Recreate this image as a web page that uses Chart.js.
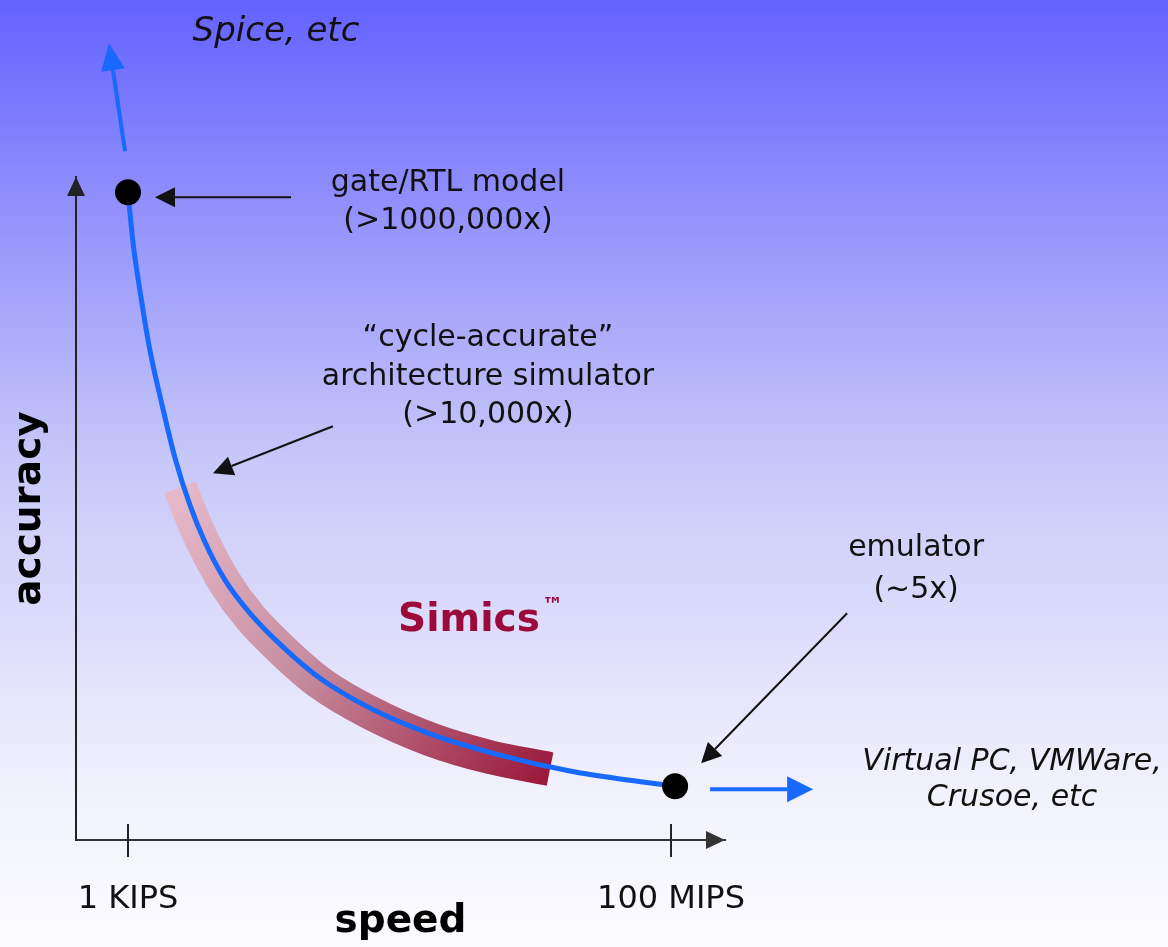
<!DOCTYPE html>
<html>
<head>
<meta charset="utf-8">
<style>
  html, body { margin: 0; padding: 0; background: #fff; }
  #wrap { width: 1168px; height: 947px; }
</style>
</head>
<body>
<div id="wrap"><canvas id="chart"></canvas></div>
<script src="https://cdn.jsdelivr.net/npm/chart.js@4.4.0/dist/chart.umd.min.js"></script>
<script>
// speed = instructions per second (log axis), accuracy = arbitrary 0..100
const speedTicks = [1e3, 1e8];
const speedTickLabels = ["1 KIPS", "100 MIPS"];

// the simulation trade-off curve
const curveSpeed = [1000, 1110, 1290, 1590, 2060, 2710, 3720, 5120, 7820, 13300, 26800, 58600, 169000, 604000, 2.66e6, 1.17e7, 4.19e7, 1.09e8];
const curveAccuracy = [97.7, 90.2, 82.8, 73.9, 65.6, 57.6, 50.5, 44.9, 39.2, 34.2, 29.1, 24.4, 19.9, 16.0, 12.8, 10.4, 9.0, 8.1];

// range covered by Simics (thick band)
const bandSpeed = [3010, 3890, 5120, 7820, 13300, 26800, 58600, 169000, 604000, 2.15e6, 7.69e6];
const bandAccuracy = [53.2, 48.6, 44.3, 38.8, 33.6, 28.5, 23.7, 19.2, 15.2, 12.5, 10.7];

// end points of the curve
const markerSpeed = [1000, 1.09e8];
const markerAccuracy = [97.7, 8.1];

// annotation texts
const topLabel = ["Spice, etc"];
const gateLabel = ["gate/RTL model", "(>1000,000x)"];
const cycleLabel = ["\u201Ccycle-accurate\u201D", "architecture simulator", "(>10,000x)"];
const emuLabel = ["emulator", "(~5x)"];
const fastLabel = ["Virtual PC, VMWare,", "Crusoe, etc"];
const bandLabel = "Simics";
const bandLabelPos = { speed: 1.38e6, accuracy: 33 };

const FONT = "'DejaVu Sans', Verdana, sans-serif";
const BLUE = "#1769ff";

// 畫箭頭
function arrow(ctx, x1, y1, x2, y2, color, width, headLen, headHalf) {
  const ang = Math.atan2(y2 - y1, x2 - x1);
  const bx = x2 - headLen * Math.cos(ang);
  const by = y2 - headLen * Math.sin(ang);
  ctx.save();
  ctx.strokeStyle = color;
  ctx.fillStyle = color;
  ctx.lineWidth = width;
  ctx.beginPath();
  ctx.moveTo(x1, y1);
  ctx.lineTo(bx, by);
  ctx.stroke();
  ctx.beginPath();
  ctx.moveTo(x2, y2);
  ctx.lineTo(bx + headHalf * Math.sin(ang), by - headHalf * Math.cos(ang));
  ctx.lineTo(bx - headHalf * Math.sin(ang), by + headHalf * Math.cos(ang));
  ctx.closePath();
  ctx.fill();
  ctx.restore();
}

function lines(ctx, arr, cx, cy, gap, font, color) {
  ctx.save();
  ctx.font = font;
  ctx.fillStyle = color;
  ctx.textAlign = "center";
  ctx.textBaseline = "middle";
  arr.forEach((t, i) => ctx.fillText(t, cx, cy + i * gap));
  ctx.restore();
}

const slidePlugin = {
  id: "slideDecor",
  beforeDraw: (chart) => {
    const { ctx, width, height } = chart;
    const g = ctx.createLinearGradient(0, 0, 0, height);
    g.addColorStop(0, "#6462ff");
    g.addColorStop(0.26, "#9a99fb");
    g.addColorStop(0.49, "#c8c8f9");
    g.addColorStop(0.85, "#f3f3fd");
    g.addColorStop(1, "#fbfbff");
    ctx.save();
    ctx.fillStyle = g;
    ctx.fillRect(0, 0, width, height);
    ctx.restore();
  },
  afterDraw: (chart) => {
    const { ctx, chartArea: { left, right, top, bottom }, scales: { x, y } } = chart;

    // 軸箭頭
    arrow(ctx, left, bottom, left, top, "#222", 2, 19, 9);
    arrow(ctx, left, bottom, right, bottom, "#333", 2, 19, 9);

    // 刻度線 (跨過軸線)
    ctx.save();
    ctx.strokeStyle = "#222";
    ctx.lineWidth = 2;
    speedTicks.forEach((v) => {
      const px = x.getPixelForValue(v);
      ctx.beginPath();
      ctx.moveTo(px, bottom - 16);
      ctx.lineTo(px, bottom + 17);
      ctx.stroke();
    });
    ctx.restore();

    const gx = x.getPixelForValue(markerSpeed[0]);
    const gy = y.getPixelForValue(markerAccuracy[0]);
    const ex = x.getPixelForValue(markerSpeed[1]);
    const ey = y.getPixelForValue(markerAccuracy[1]);
    const bx = x.getPixelForValue(bandSpeed[0]);
    const by = y.getPixelForValue(bandAccuracy[0]);

    // 藍色延伸箭頭
    arrow(ctx, gx - 3, gy - 41, gx - 19, gy - 149, BLUE, 4, 27, 12);
    arrow(ctx, ex + 35, ey + 3, ex + 138, ey + 3, BLUE, 4, 26, 13);

    // 註解箭頭
    arrow(ctx, gx + 163, gy + 5, gx + 27, gy + 5, "#111", 2, 20, 10);
    arrow(ctx, bx + 153, by - 61, bx + 33, by - 14, "#111", 2, 20, 10);
    arrow(ctx, ex + 172, ey - 173, ex + 26, ey - 23, "#111", 2, 20, 10);

    // 文字
    const reg = `30px ${FONT}`;
    const ita = `italic 30px ${FONT}`;
    lines(ctx, topLabel, gx + 148, gy - 160, 0, `italic 34px ${FONT}`, "#111");
    lines(ctx, gateLabel, gx + 320, gy - 9, 38, reg, "#111");
    lines(ctx, cycleLabel, bx + 308, by - 149, 38.5, reg, "#111");
    lines(ctx, emuLabel, ex + 241, ey - 238, 42, reg, "#111");
    lines(ctx, fastLabel, ex + 337, ey - 24, 36, ita, "#111");

    // Simics™
    const sx = x.getPixelForValue(bandLabelPos.speed);
    const sy = y.getPixelForValue(bandLabelPos.accuracy);
    ctx.save();
    ctx.font = `bold 39px ${FONT}`;
    ctx.fillStyle = "#9c0a3c";
    ctx.textAlign = "center";
    ctx.textBaseline = "middle";
    ctx.fillText(bandLabel, sx, sy);
    const w = ctx.measureText(bandLabel).width;
    ctx.font = `bold 21px ${FONT}`;
    ctx.textAlign = "left";
    ctx.fillText("\u2122", sx + w / 2 + 2, sy - 15);
    ctx.restore();
  },
};

const ctx_1 = document.getElementById("chart");
const chart_1 = new Chart(ctx_1, {
  type: "line",
  data: {
    datasets: [
      {
        label: "end points",
        data: markerSpeed.map((v, i) => ({ x: v, y: markerAccuracy[i] })),
        showLine: false,
        pointRadius: 13,
        pointBackgroundColor: "#000",
        pointBorderWidth: 0,
      },
      {
        label: "curve",
        data: curveSpeed.map((v, i) => ({ x: v, y: curveAccuracy[i] })),
        borderColor: BLUE,
        borderWidth: 5,
        pointRadius: 0,
        cubicInterpolationMode: "monotone",
      },
      {
        label: "Simics",
        data: bandSpeed.map((v, i) => ({ x: v, y: bandAccuracy[i] })),
        borderWidth: 34,
        borderCapStyle: "butt",
        pointRadius: 0,
        cubicInterpolationMode: "monotone",
        // 漸層色帶
        borderColor: (context) => {
          const chart = context.chart;
          const { x, y } = chart.scales;
          if (!chart.chartArea || !x || !y) return "#c08090";
          const n = bandSpeed.length - 1;
          const g = chart.ctx.createLinearGradient(
            x.getPixelForValue(bandSpeed[0]), y.getPixelForValue(bandAccuracy[0]),
            x.getPixelForValue(bandSpeed[n]), y.getPixelForValue(bandAccuracy[n])
          );
          g.addColorStop(0, "#e6b9c9");
          g.addColorStop(0.45, "#c68c9f");
          g.addColorStop(1, "#9a1a3c");
          return g;
        },
      },
    ],
  },
  options: {
    responsive: true,
    maintainAspectRatio: false,
    animation: false,
    events: [],
    layout: { padding: { top: 177, right: 443, left: 0, bottom: 0 } },
    plugins: {
      legend: { display: false },
      tooltip: { enabled: false },
    },
    scales: {
      x: {
        type: "logarithmic",
        min: 332,
        max: 3.14e8,
        grid: { display: false, drawTicks: false },
        border: { color: "#333", width: 2 },
        afterBuildTicks: (scale) => {
          scale.ticks = speedTicks.map((v) => ({ value: v }));
        },
        afterFit: (scale) => {
          scale.height = 107;
        },
        ticks: {
          autoSkip: false,
          maxRotation: 0,
          padding: 40,
          color: "#111",
          font: { family: FONT, size: 32 },
          callback: (value, index) => speedTickLabels[index],
        },
        title: {
          display: true,
          text: "speed",
          color: "#000",
          font: { family: FONT, size: 39, weight: "bold" },
          padding: { top: 0, bottom: 2 },
        },
      },
      y: {
        min: 0,
        max: 100,
        grid: { display: false },
        border: { color: "#222", width: 2 },
        ticks: { display: false },
        afterFit: (scale) => {
          scale.width = 76;
        },
        title: {
          display: true,
          text: "accuracy",
          color: "#000",
          font: { family: FONT, size: 39, weight: "bold" },
          padding: { top: 6, bottom: 0 },
        },
      },
    },
  },
  plugins: [slidePlugin],
});
</script>
</body>
</html>
